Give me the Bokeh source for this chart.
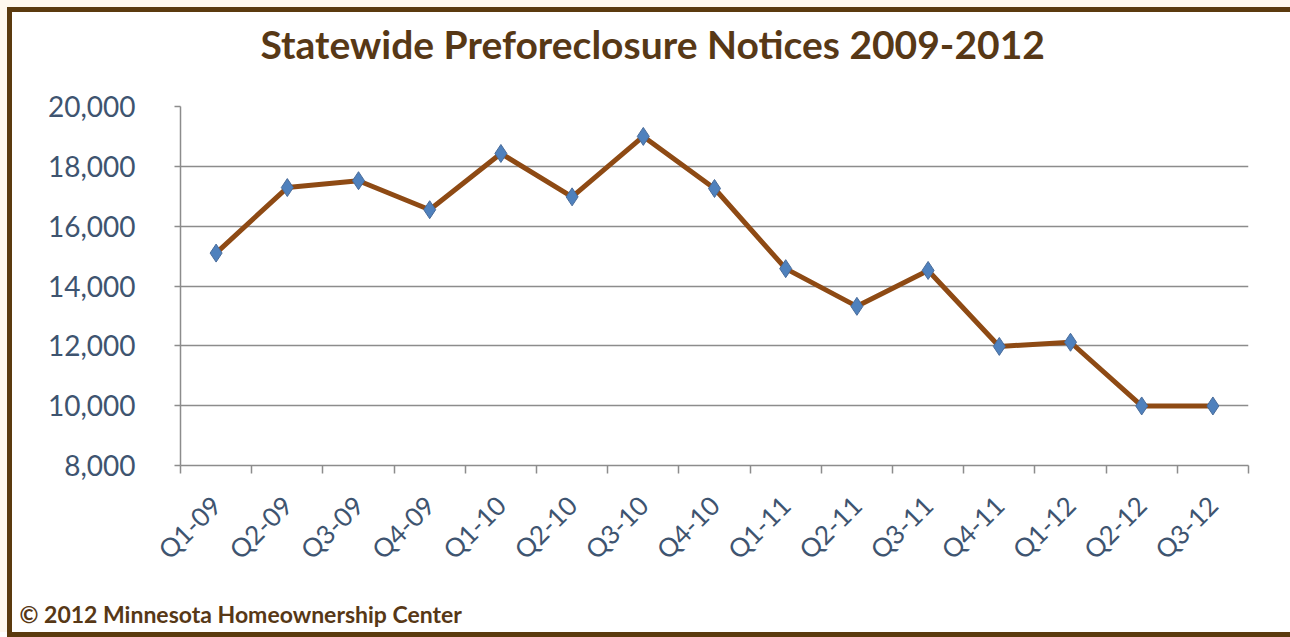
import numpy as np
from bokeh.plotting import figure
from bokeh.models import Range1d, FixedTicker, Title, NumeralTickFormatter, LinearAxis
from bokeh.embed import file_html
from bokeh.resources import INLINE

quarters = ["Q1-09", "Q2-09", "Q3-09", "Q4-09", "Q1-10", "Q2-10", "Q3-10", "Q4-10",
            "Q1-11", "Q2-11", "Q3-11", "Q4-11", "Q1-12", "Q2-12", "Q3-12"]
notices = [15100, 17290, 17520, 16550, 18430, 16980, 19000, 17260,
           14580, 13320, 14520, 11980, 12120, 9990, 9990]
y_ticks = [8000, 10000, 12000, 14000, 16000, 18000, 20000]

BROWN = "#5B3A0E"
CREAM = "#FFF8EE"
TEXT_BROWN = "#573816"
TICK_BLUE = "#3E5470"

x = [i + 0.5 for i in range(len(quarters))]
boundaries = list(range(len(quarters) + 1))

shadow = ", ".join([
    f"-5px 0 0 0 {BROWN}", f"0 -5px 0 0 {BROWN}", f"0 5px 0 0 {BROWN}",
    f"-5px -5px 0 0 {BROWN}", f"-5px 5px 0 0 {BROWN}",
    f"-12px 0 0 0 {CREAM}", f"0 -12px 0 0 {CREAM}", f"-12px -12px 0 0 {CREAM}",
])

p = figure(width=1278, height=620, output_backend="svg", toolbar_location=None,
           x_range=Range1d(0, len(quarters)), y_range=Range1d(y_ticks[0], y_ticks[-1]),
           min_border_left=168, min_border_right=42, min_border_top=94, min_border_bottom=167,
           styles={"margin-left": "12px", "margin-top": "12px", "margin-bottom": "-30px",
                   "vertical-align": "top", "box-shadow": shadow})
p.background_fill_color = "white"
p.border_fill_color = "white"
p.outline_line_color = None

xa = p.below[0]
ya = p.left[0]


def spacer(size):
    # an invisible axis used only to reserve vertical space
    ax = LinearAxis(ticker=FixedTicker(ticks=[1.0], minor_ticks=[]))
    ax.major_label_overrides = {1.0: ""}
    ax.major_label_text_font_size = "1px"
    ax.axis_line_color = None
    ax.major_tick_line_color = None
    ax.minor_tick_line_color = None
    ax.major_tick_out = size
    ax.major_tick_in = 0
    ax.minor_tick_out = 0
    ax.major_label_standoff = 0
    return ax


# spacer between frame and title
p.add_layout(spacer(31), "above")

# title
p.title.text = "Statewide Preforeclosure Notices 2009-2012"
p.title.align = "left"
p.title.offset = 80
p.title.vertical_align = "top"
p.title.text_font = "Lato"
p.title.text_font_size = "39px"
p.title.text_font_style = "bold"
p.title.text_color = TEXT_BROWN
p.title.standoff = 13

# x axis
xa.ticker = FixedTicker(ticks=x, minor_ticks=boundaries)
xa.major_label_overrides = {xi: q for xi, q in zip(x, quarters)}
xa.major_tick_line_color = None
xa.minor_tick_line_color = "#8C8C8C"
xa.minor_tick_line_width = 1.5
xa.minor_tick_out = 8
xa.minor_tick_in = 0
xa.axis_line_color = "#8C8C8C"
xa.axis_line_width = 1.5
xa.major_label_orientation = np.pi / 4
xa.major_label_standoff = 27
xa.major_label_text_font = "Lato"
xa.major_label_text_font_size = "26px"
xa.major_label_text_color = TICK_BLUE

# y axis
ya.ticker = FixedTicker(ticks=y_ticks, minor_ticks=[])
ya.formatter = NumeralTickFormatter(format="0,0")
ya.axis_line_color = "#8C8C8C"
ya.axis_line_width = 1.5
ya.major_tick_line_color = "#8C8C8C"
ya.major_tick_line_width = 1.5
ya.major_tick_out = 6
ya.major_tick_in = 0
ya.minor_tick_line_color = None
ya.major_label_standoff = 39
ya.major_label_text_font = "Lato"
ya.major_label_text_font_size = "28px"
ya.major_label_text_color = TICK_BLUE

p.xgrid.grid_line_color = None
p.ygrid.grid_line_color = "#8C8C8C"
p.ygrid.grid_line_width = 1.5

# data
p.line(x, notices, line_color="#8E4A14", line_width=5)
p.scatter(x, notices, marker="diamond", size=18, fill_color="#4F81BD", line_color="#4A6C9A")

# spacer between x axis and footer, then footer
p.add_layout(spacer(16), "below")
footer = Title(text="\u00a9 2012 Minnesota Homeownership Center", align="left", offset=-161,
               vertical_align="bottom", text_font="Lato", text_font_size="23px",
               text_font_style="bold", text_color=TEXT_BROWN, standoff=4)
p.add_layout(footer, "below")

open("out.html", "w").write(file_html(p, INLINE))
